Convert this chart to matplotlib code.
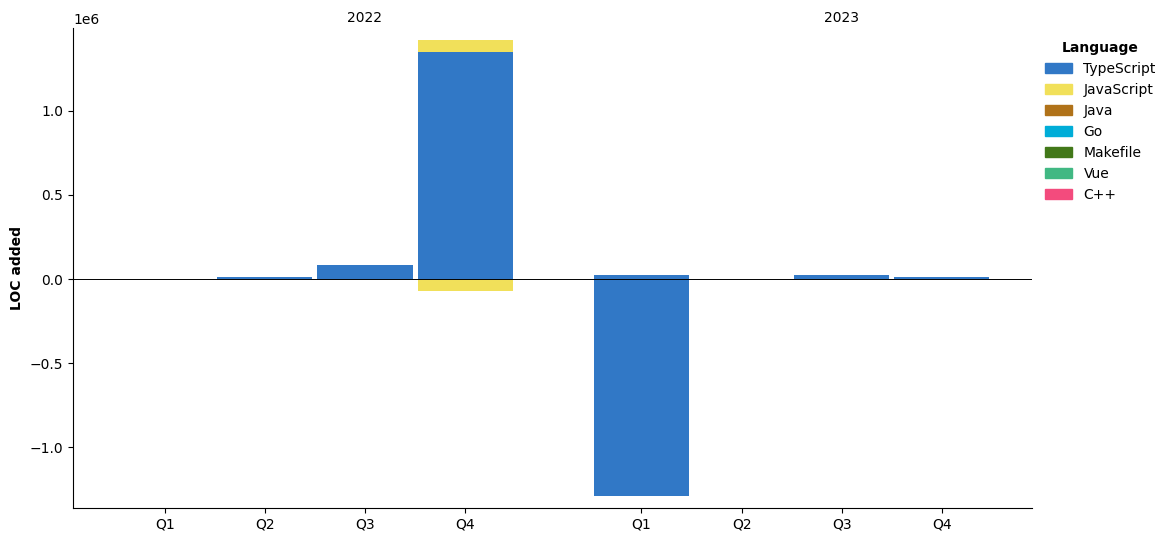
import matplotlib
matplotlib.use('Agg')
import matplotlib.pyplot as plt
from matplotlib.patches import Patch
import numpy as np

years = ['2022', '2023']
quarters = ['Q1', 'Q2', 'Q3', 'Q4']
languages = ['TypeScript', 'JavaScript', 'Java', 'Go', 'Makefile', 'Vue', 'C++']
colors = ['#3178c6', '#f1e05a', '#b07219', '#00add8', '#427819', '#41b883', '#f34b7d']

# LOC added (positive) per language, 2022 Q1 .. 2023 Q4
added = {
    'TypeScript': [0, 10000, 85000, 1351000, 24000, 0, 25000, 13000],
    'JavaScript': [0, 0, 0, 71000, 0, 0, 0, 0],
    'Java':       [0, 0, 0, 0, 0, 0, 0, 0],
    'Go':         [0, 0, 0, 0, 0, 0, 0, 0],
    'Makefile':   [0, 0, 0, 0, 0, 0, 0, 0],
    'Vue':        [0, 3000, 0, 0, 0, 0, 0, 0],
    'C++':        [0, 0, 0, 0, 0, 0, 0, 0],
}
# LOC removed (negative)
removed = {
    'TypeScript': [0, 0, 0, 0, -1290000, 0, 0, 0],
    'JavaScript': [0, 0, 0, -70000, 0, 0, 0, 0],
    'Java':       [0, 0, 0, 0, 0, 0, 0, 0],
    'Go':         [0, 0, 0, 0, 0, 0, 0, 0],
    'Makefile':   [0, 0, 0, 0, 0, 0, 0, 0],
    'Vue':        [0, 0, 0, 0, 0, 0, 0, 0],
    'C++':        [0, 0, 0, 0, 0, 0, 0, 0],
}

gap = 1.76
x = np.array([i + (gap - 1) * (i // 4) for i in range(8)], dtype=float)

fig = plt.figure(figsize=(11.72, 5.42), dpi=100)
ax = fig.add_axes([0.0623, 0.0627, 0.8183, 0.886])

pos_bottom = np.zeros(8)
neg_bottom = np.zeros(8)
for lang, c in zip(languages, colors):
    a = np.array(added[lang], dtype=float)
    r = np.array(removed[lang], dtype=float)
    ax.bar(x, a, width=0.95, bottom=pos_bottom, color=c)
    ax.bar(x, r, width=0.95, bottom=neg_bottom, color=c)
    pos_bottom += a
    neg_bottom += r

ax.axhline(0, color='black', linewidth=0.7)
ax.set_xticks(x)
ax.set_xticklabels(quarters * len(years))
ax.set_xlim(x[0] - 0.915, x[-1] + 0.90)
ax.set_ylim(-1.361e6, 1.493e6)
ax.set_ylabel('LOC added', fontweight='bold')
ax.spines['top'].set_visible(False)
ax.spines['right'].set_visible(False)

for k, yr in enumerate(years):
    ax.text(x[4 * k + 2], 1.021, yr, transform=ax.get_xaxis_transform(),
            ha='center', va='center', fontsize=10)

handles = [Patch(color=c, label=l) for l, c in zip(languages, colors)]
leg = ax.legend(handles=handles, title='Language', loc='upper left',
                bbox_to_anchor=(1.0, 0.998), frameon=False)
leg.get_title().set_fontweight('bold')

fig.savefig('out.png', dpi=100)
